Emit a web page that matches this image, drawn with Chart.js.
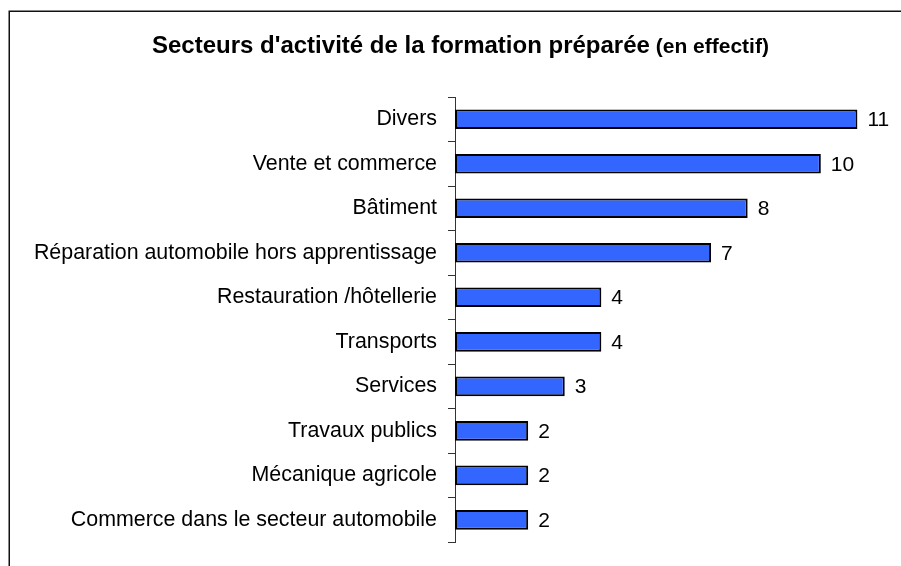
<!DOCTYPE html>
<html>
<head>
<meta charset="utf-8">
<script src="https://cdn.jsdelivr.net/npm/chart.js@4"></script>
<style>
  html, body { margin: 0; padding: 0; background: #fff; }
  #wrap { width: 901px; height: 566px; position: relative; }
</style>
</head>
<body>
<div id="wrap"><canvas id="c" width="901" height="566"></canvas></div>
<script>
const categories = [
  "Divers",
  "Vente et commerce",
  "Bâtiment",
  "Réparation automobile hors apprentissage",
  "Restauration /hôtellerie",
  "Transports",
  "Services",
  "Travaux publics",
  "Mécanique agricole",
  "Commerce dans le secteur automobile"
];
const values = [11, 10, 8, 7, 4, 4, 3, 2, 2, 2];
const titleMain = "Secteurs d'activité de la formation préparée";
const titleSub = " (en effectif)";

const FONT = '"Liberation Sans", Arial, sans-serif';

const framePlugin = {
  id: 'frame',
  beforeDraw(chart) {
    const ctx = chart.ctx;
    ctx.save();
    ctx.fillStyle = '#fff';
    ctx.fillRect(0, 0, chart.width, chart.height);
    ctx.strokeStyle = '#111';
    ctx.lineWidth = 1.5;
    ctx.beginPath();
    ctx.moveTo(9.25, chart.height);
    ctx.lineTo(9.25, 11.25);
    ctx.lineTo(chart.width, 11.25);
    ctx.stroke();
    ctx.restore();
  }
};

const titlePlugin = {
  id: 'mixedTitle',
  afterDraw(chart) {
    const ctx = chart.ctx;
    ctx.save();
    ctx.fillStyle = '#000';
    ctx.textBaseline = 'alphabetic';
    ctx.textAlign = 'left';
    const f1 = 'bold 24px ' + FONT;
    const f2 = 'bold 21px ' + FONT;
    ctx.font = f1;
    const w1 = ctx.measureText(titleMain).width;
    const x = 152;
    const y = 53;
    ctx.fillText(titleMain, x, y);
    ctx.font = f2;
    ctx.fillText(titleSub, x + w1, y);
    ctx.restore();
  }
};

const valuePlugin = {
  id: 'valueLabels',
  afterDatasetsDraw(chart) {
    const ctx = chart.ctx;
    const meta = chart.getDatasetMeta(0);
    ctx.save();
    ctx.fillStyle = '#000';
    ctx.font = '21px ' + FONT;
    ctx.textAlign = 'left';
    ctx.textBaseline = 'middle';
    meta.data.forEach((bar, i) => {
      ctx.fillText(String(values[i]), bar.x + 10, bar.y + 1);
    });
    ctx.restore();
  }
};

new Chart(document.getElementById('c'), {
  type: 'bar',
  data: {
    labels: categories,
    datasets: [{
      data: values,
      backgroundColor: '#3366FF',
      borderColor: '#000',
      borderWidth: 2,
      borderSkipped: false,
      categoryPercentage: 1,
      barPercentage: 0.44
    }]
  },
  options: {
    indexAxis: 'y',
    responsive: false,
    animation: false,
    events: [],
    layout: { padding: { top: 97, bottom: 14, left: 0, right: 7 } },
    plugins: {
      legend: { display: false },
      title: { display: false },
      tooltip: { enabled: false }
    },
    scales: {
      x: {
        display: false,
        min: 0,
        max: 12
      },
      y: {
        afterFit(scale) { scale.width = 455; },
        grid: {
          display: true,
          drawOnChartArea: false,
          drawTicks: true,
          tickLength: 7,
          color: '#333',
          offset: true
        },
        border: { display: true, color: '#333', width: 1 },
        ticks: {
          color: '#000',
          padding: 11,
          font: { family: FONT, size: 21.4 }
        }
      }
    }
  },
  plugins: [framePlugin, titlePlugin, valuePlugin]
});
</script>
</body>
</html>
